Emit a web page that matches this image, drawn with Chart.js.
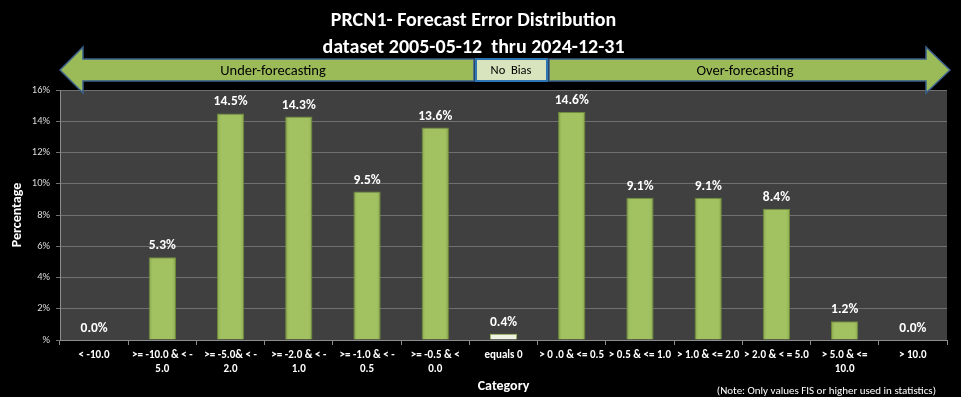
<!DOCTYPE html>
<html><head><meta charset="utf-8">
<script src="https://cdn.jsdelivr.net/npm/chart.js@4/dist/chart.umd.min.js"></script>
<style>html,body{margin:0;padding:0;background:#000;overflow:hidden}</style>
</head><body>
<canvas id="c" width="961" height="397"></canvas>
<script>
const categories = [["< -10.0"],[">= -10.0 & < -","5.0"],[">= -5.0& < -","2.0"],[">= -2.0 & < -","1.0"],[">= -1.0 & < -","0.5"],[">= -0.5 & <","0.0"],["equals 0"],["> 0 .0 & <= 0.5"],["> 0.5 & <= 1.0"],["> 1.0 & <= 2.0"],["> 2.0 & < = 5.0"],["> 5.0 & <=","10.0"],["> 10.0"]];
const percentages = [0.0, 5.3, 14.5, 14.3, 9.5, 13.6, 0.4, 14.6, 9.1, 9.1, 8.4, 1.2, 0.0];
const yTickValues = [0, 2, 4, 6, 8, 10, 12, 14, 16];
const titleLines = ["PRCN1- Forecast Error Distribution", "dataset 2005-05-12  thru 2024-12-31"];
const bandLabels = ["Under-forecasting", "No  Bias", "Over-forecasting"];
const noteText = "(Note: Only values FIS or higher used in statistics)";
const yAxisTitle = "Percentage";
const xAxisTitle = "Category";

const FONT = "Carlito, 'Open Sans', sans-serif";

const bgPlugin = {
  id: 'bg',
  beforeDraw(chart) {
    const {ctx, chartArea: a} = chart;
    ctx.save();
    ctx.fillStyle = '#000';
    ctx.fillRect(0, 0, chart.width, chart.height);
    ctx.fillStyle = '#404040';
    ctx.fillRect(a.left, a.top, a.right - a.left, a.bottom - a.top);
    ctx.restore();
  }
};

const labelPlugin = {
  id: 'valueLabels',
  afterDatasetsDraw(chart) {
    const {ctx} = chart;
    const meta = chart.getDatasetMeta(0);
    ctx.save();
    ctx.font = "bold 13.5px " + FONT;
    ctx.fillStyle = '#ffffff';
    ctx.textAlign = 'center';
    ctx.textBaseline = 'alphabetic';
    meta.data.forEach((bar, i) => {
      ctx.fillText(percentages[i].toFixed(1) + '%', bar.x, bar.y - 8);
    });
    ctx.restore();
  }
};

const arrowPlugin = {
  id: 'arrows',
  afterDraw(chart) {
    const {ctx, chartArea: a} = chart;
    const L = a.left, R = a.right;
    const yt = 59, yb = 81, ht = 47, hb = 93, yc = 70;
    ctx.save();
    ctx.lineWidth = 1.5;
    ctx.strokeStyle = '#3a5f8c';
    ctx.fillStyle = '#9bbb59';
    ctx.beginPath();
    ctx.moveTo(L, yc);
    ctx.lineTo(L + 23, ht);
    ctx.lineTo(L + 23, yt);
    ctx.lineTo(474, yt);
    ctx.lineTo(474, yb);
    ctx.lineTo(L + 23, yb);
    ctx.lineTo(L + 23, hb);
    ctx.closePath();
    ctx.fill(); ctx.stroke();
    ctx.beginPath();
    ctx.moveTo(R + 3, yc);
    ctx.lineTo(R - 21, ht);
    ctx.lineTo(R - 21, yt);
    ctx.lineTo(549, yt);
    ctx.lineTo(549, yb);
    ctx.lineTo(R - 21, yb);
    ctx.lineTo(R - 21, hb);
    ctx.closePath();
    ctx.fill(); ctx.stroke();
    ctx.fillStyle = '#d7e4bd';
    ctx.strokeStyle = '#2e75b6';
    ctx.lineWidth = 2;
    ctx.fillRect(476, 59, 71, 22);
    ctx.strokeRect(476, 59, 71, 22);
    ctx.fillStyle = '#000';
    ctx.textAlign = 'center';
    ctx.textBaseline = 'middle';
    ctx.font = "14.5px " + FONT;
    ctx.fillText(bandLabels[0], 273, 71);
    ctx.fillText(bandLabels[2], 745, 71);
    ctx.font = "12.5px " + FONT;
    ctx.fillText(bandLabels[1], 511, 71);
    ctx.fillStyle = '#ffffff';
    ctx.font = "11px " + FONT;
    ctx.textAlign = 'right';
    ctx.fillText(noteText, 936, 391);
    ctx.restore();
  }
};

function barFill(context) {
  const chart = context.chart;
  const i = context.dataIndex;
  if (categories[i][0] === 'equals 0') return '#eef3e3';
  const xs = chart.scales.x;
  if (!xs || !chart.chartArea) return '#9bbb59';
  const cx = xs.getPixelForValue(i);
  const g = chart.ctx.createLinearGradient(cx - 14, 0, cx + 14, 0);
  g.addColorStop(0, '#88a64c');
  g.addColorStop(0.15, '#a2c262');
  g.addColorStop(0.85, '#a2c262');
  g.addColorStop(1, '#88a64c');
  return g;
}
const barBorders = percentages.map((v, i) => categories[i][0] === 'equals 0' ? '#9bbb59' : '#6f8a3b');

new Chart(document.getElementById('c'), {
  type: 'bar',
  data: {
    labels: categories,
    datasets: [{
      data: percentages,
      backgroundColor: barFill,
      borderColor: barBorders,
      borderWidth: 1,
      barPercentage: 0.8,
      categoryPercentage: 0.5
    }]
  },
  options: {
    responsive: false,
    animation: false,
    devicePixelRatio: 1,
    layout: { padding: { left: 0, right: 14, top: 0, bottom: 0 } },
    plugins: {
      legend: { display: false },
      tooltip: { enabled: false },
      title: {
        display: true,
        text: titleLines,
        color: '#ffffff',
        font: { family: FONT, size: 20, weight: 'bold', lineHeight: 1.35 },
        padding: { top: 7, bottom: 29 }
      }
    },
    scales: {
      x: {
        grid: { display: true, drawOnChartArea: false, drawTicks: true, tickLength: 5, color: '#8c8c8c', offset: true },
        border: { display: true, color: '#8c8c8c' },
        ticks: { color: '#ffffff', autoSkip: false, maxRotation: 0, minRotation: 0, padding: 3,
                 font: { family: FONT, size: 11, weight: 'bold', lineHeight: 1.3 } },
        title: { display: true, text: xAxisTitle, color: '#ffffff',
                 font: { family: FONT, size: 14, weight: 'bold' }, padding: { top: 0, bottom: 2 } },
        afterFit(scale) { scale.height = 57; }
      },
      y: {
        min: 0, max: 16,
        afterBuildTicks(scale) { scale.ticks = yTickValues.map(v => ({ value: v })); },
        grid: { color: '#707070', tickLength: 4, drawTicks: true },
        border: { display: true, color: '#8c8c8c' },
        ticks: { color: '#d9d9d9', padding: 6, font: { family: FONT, size: 10.5 },
                 callback: v => v === 0 ? '%' : v + '%' },
        title: { display: true, text: yAxisTitle, color: '#ffffff',
                 font: { family: FONT, size: 14, weight: 'bold' }, padding: { top: 9, bottom: 0 } },
        afterFit(scale) { scale.width = 60; }
      }
    }
  },
  plugins: [bgPlugin, labelPlugin, arrowPlugin]
});
</script>
</body></html>
